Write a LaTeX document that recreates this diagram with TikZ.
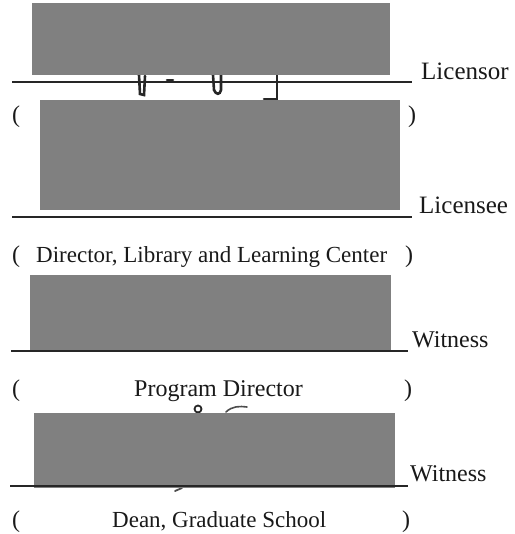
\documentclass[tikz,border=0pt]{standalone}
\usepackage{fontspec}
\setmainfont{Liberation Serif}
\begin{document}
\begin{tikzpicture}[x=1pt,y=-1pt,
  sigline/.style={line width=1.4pt,black!85},
  redact/.style={fill=black!50,draw=none},
  lbl/.style={anchor=base west,inner sep=0pt,font=\fontsize{23}{26}\selectfont,text=black!90},
  big/.style={font=\fontsize{25}{28}\selectfont},
  mid/.style={font=\fontsize{24}{27}\selectfont},
  scrib/.style={line width=2.6pt,black!85,line cap=round}]
\useasboundingbox (0,0) rectangle (514,534);
% row 1 signature scribbles
\draw[scrib] (139,75) -- (140,94) -- (144,95) -- (145,76);
\draw[scrib] (167,80) -- (173,80);
\draw[scrib] (213,75) -- (214,90) .. controls (216,95) and (220,95) .. (221,90) -- (221,75);
\draw[scrib] (277,75) -- (277,99) -- (264,99);
% row 1
\coordinate (l1a) at (12,82); \coordinate (l1b) at (412,82);
\draw[sigline] (l1a) -- (l1b);
\node[redact,minimum width=358pt,minimum height=72pt,anchor=north west] (r1) at (32,3) {};
\node[lbl,big] (t1) at (421,80) {Licensor};
\node[lbl,mid] (p1a) at (12,123) {(};
\node[lbl,mid] (p1b) at (408,123) {)};
% row 2
\node[redact,minimum width=360pt,minimum height=110pt,anchor=north west] (r2) at (40,100) {};
\coordinate (l2a) at (12,217); \coordinate (l2b) at (412,217);
\draw[sigline] (l2a) -- (l2b);
\node[lbl,big] (t2) at (419,214) {Licensee};
\node[lbl,mid] (p2a) at (12,262) {(};
\node[lbl] (d2) at (36,262) {Director, Library and Learning Center};
\node[lbl,mid] (p2b) at (405,262) {)};
% row 3
\node[redact,minimum width=361pt,minimum height=76pt,anchor=north west] (r3) at (30,275) {};
\coordinate (l3a) at (11,351); \coordinate (l3b) at (408,351);
\draw[sigline] (l3a) -- (l3b);
\node[lbl,mid] (t3) at (412,347) {Witness};
\node[lbl,mid] (p3a) at (12,396) {(};
\node[lbl,mid] (d3) at (134,396) {Program Director};
\node[lbl,mid] (p3b) at (404,396) {)};
% row 4 scribbles
\draw[line width=1.8pt,black!85] (198,409) circle (3.5pt);
\draw[line width=1.6pt,black!70,line cap=round] (226,412) .. controls (232,406) and (240,406) .. (247,407);
\draw[line width=1.8pt,black!70,line cap=round] (175,491) -- (182,488);
% row 4
\node[redact,minimum width=361pt,minimum height=75pt,anchor=north west] (r4) at (34,413) {};
\coordinate (l4a) at (10,486); \coordinate (l4b) at (408,486);
\draw[sigline] (l4a) -- (l4b);
\node[lbl,mid] (t4) at (410,481) {Witness};
\node[lbl,mid] (p4a) at (12,527) {(};
\node[lbl] (d4) at (112,527) {Dean, Graduate School};
\node[lbl,mid] (p4b) at (402,527) {)};
\end{tikzpicture}
\end{document}
